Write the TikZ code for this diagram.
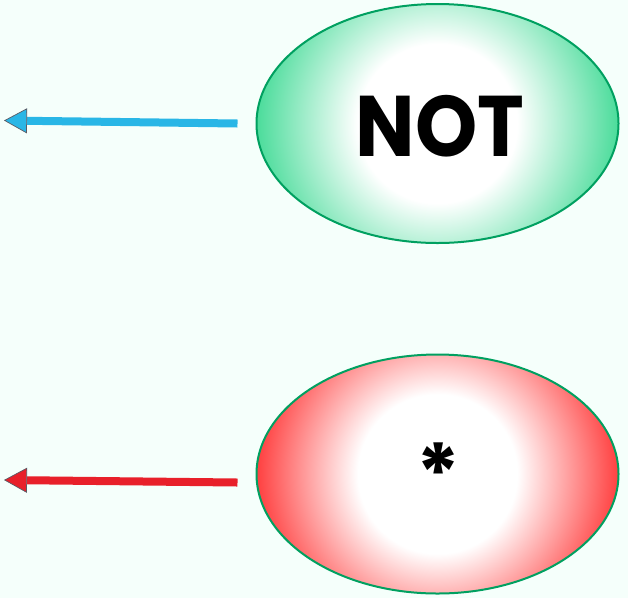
\documentclass[tikz,border=0pt]{standalone}
\usepackage{fontspec}
\newfontfamily\popbold{Poppins Bold}
\usetikzlibrary{shapes.geometric,arrows.meta}
\definecolor{bgmint}{RGB}{245,255,251}
\definecolor{edgegreen}{RGB}{0,160,96}
\definecolor{glowgreen}{RGB}{75,220,155}
\definecolor{glowred}{RGB}{255,64,64}
\definecolor{arrowblue}{RGB}{41,182,230}
\definecolor{arrowred}{RGB}{232,32,42}
\definecolor{tipedge}{RGB}{90,90,100}
\pgfdeclareradialshading{greenglow}{\pgfpoint{0bp}{0bp}}{color(0bp)=(white); color(11bp)=(white); color(25bp)=(glowgreen); color(50bp)=(glowgreen)}
\pgfdeclareradialshading{redglow}{\pgfpoint{0bp}{0bp}}{color(0bp)=(white); color(11bp)=(white); color(25bp)=(glowred); color(50bp)=(glowred)}
\begin{document}
\begin{tikzpicture}[x=1pt,y=-1pt,
  blob/.style={ellipse, draw=edgegreen, line width=2pt, minimum width=362pt, minimum height=239pt, inner sep=0pt,
    path picture={\shade[shading=#1] ([shift={(-181pt,-181pt)}]path picture bounding box.center) rectangle ++(362pt,362pt);}},
  arr/.style={line width=8pt, draw=#1, -{Triangle[length=23pt,width=25pt,line width=0.7pt,color=tipedge,fill=#1]}},
  bigword/.style={font=\popbold\fontsize{86}{86}\selectfont, inner sep=0pt},
  starmark/.style={font=\popbold\fontsize{82}{82}\selectfont, inner sep=0pt}
]
\fill[bgmint] (0,0) rectangle (628,598);
\useasboundingbox (0,0) rectangle (628,598);
\node[blob=greenglow] (notov) at (437.5,123.5) {};
\node[blob=redglow] (starov) at (437.5,474) {};
\node[bigword] (nottext) at (440,126) {\scalebox{0.92}[1]{NOT}};
\node[starmark] (startext) at (438,473) {*};
\coordinate (bluetip) at (4,120.5);
\coordinate (redtip) at (4,480);
\draw[arr=arrowblue] ([xshift=-18pt]notov.west) -- (bluetip);
\draw[arr=arrowred] ([xshift=-18pt,yshift=-8.5pt]starov.west) -- (redtip);
\end{tikzpicture}
\end{document}
